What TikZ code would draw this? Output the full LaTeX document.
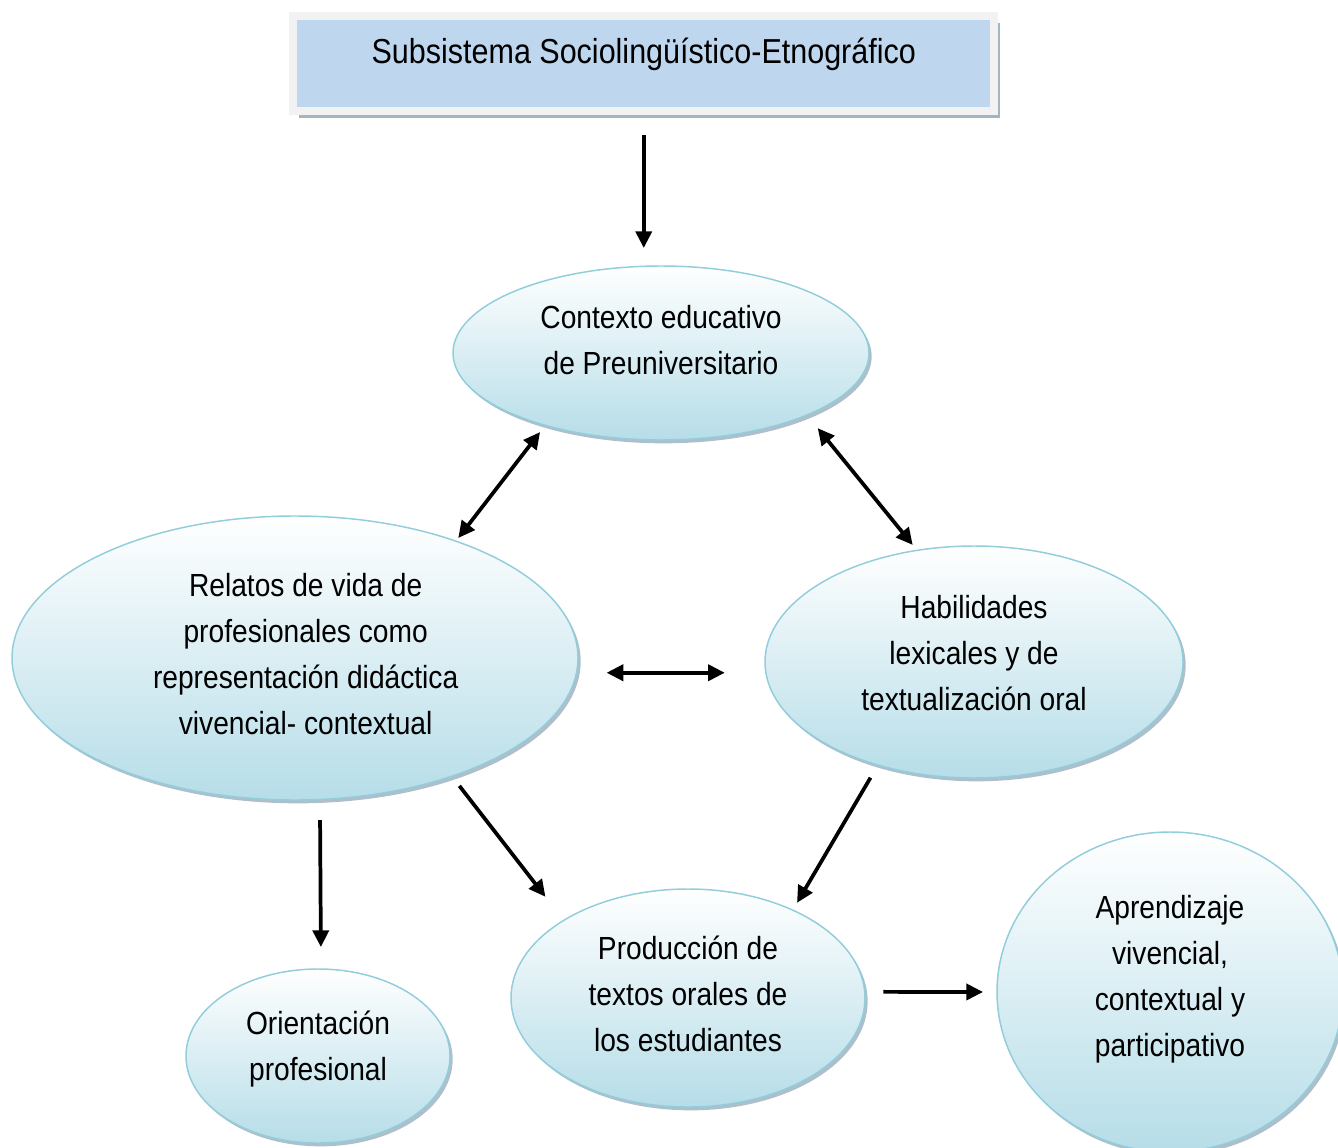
\documentclass[tikz,border=0pt]{standalone}
\usepackage{fontspec}
\setmainfont{Liberation Sans}[FakeStretch=0.88]
\usetikzlibrary{arrows.meta,shadows,shapes.geometric}
\definecolor{bordeazul}{HTML}{92CDDC}
\definecolor{fondoazul}{HTML}{B6DDE8}
\definecolor{titazul}{HTML}{BED6EE}
\definecolor{marco}{HTML}{F2F2F2}
\definecolor{sombra}{HTML}{8BA3B3}
\tikzset{
  elipse/.style={ellipse,draw=bordeazul,line width=1.1pt,top color=white,bottom color=fondoazul,
    inner sep=0pt,outer sep=0pt,align=center,font=\fontsize{24}{34.5}\selectfont,
    drop shadow={shadow xshift=2pt,shadow yshift=-2.5pt,fill=sombra,opacity=0.7}},
  titulo/.style={rectangle,fill=titazul,draw=marco,line width=6pt,outer sep=0pt,
    minimum width=525.4pt,minimum height=71.6pt,text height=20pt,text depth=20pt,
    font=\fontsize{26}{30}\selectfont,
    drop shadow={shadow xshift=4.5pt,shadow yshift=-5pt,fill=sombra,opacity=0.8}},
  flecha/.style={line width=2.8pt,-{Triangle[length=12.5pt,width=12pt]}},
  dflecha/.style={line width=2.8pt,{Triangle[length=12.5pt,width=12pt]}-{Triangle[length=12.5pt,width=12pt]}}
}
\begin{document}
\begin{tikzpicture}[x=0.75pt,y=-0.75pt]
    \useasboundingbox(0,0)rectangle(1338,1148);

    \node[titulo](tit)at(643.75,63.75){Subsistema Sociolingüístico-Etnográfico};

    \node[elipse,minimum width=312pt,minimum height=130.5pt,text depth=20pt](ctx)at(661,353){Contexto educativo\\de Preuniversitario};
    \node[elipse,minimum width=424.5pt,minimum height=213pt,text depth=6.8pt](rel)at(295,658){\hspace*{16pt}Relatos de vida de\\\hspace*{16pt}profesionales como\\\hspace*{16pt}representación didáctica\\\hspace*{16pt}vivencial- contextual};
    \node[elipse,minimum width=313.5pt,minimum height=174pt,text depth=13.5pt](hab)at(974,662){Habilidades\\lexicales y de\\textualización oral};
    \node[elipse,minimum width=265.5pt,minimum height=163.5pt,text depth=6pt](prod)at(688,998){Producción de\\textos orales de\\los estudiantes};
    \node[elipse,minimum width=198pt,minimum height=130.5pt,text depth=15.6pt](ori)at(318,1056){Orientación\\profesional};
    \node[elipse,minimum width=259.5pt,minimum height=240pt,text depth=24.6pt](apr)at(1170,992){Aprendizaje\\vivencial,\\contextual y\\participativo};

    % conexiones
    \draw[flecha,shorten <=17.6pt,shorten >=13.5pt](tit.south)--(tit.south|-ctx.north);
    \draw[dflecha,shorten <=6.4pt,shorten >=3pt](ctx.212)--(rel.36);
    \draw[dflecha,shorten <=12.75pt,shorten >=5.25pt](ctx.337)--(hab.117.3);
    \draw[dflecha,shorten <=22.6pt,shorten >=30.5pt](rel.357.4)--(rel.357.4-|hab.182.5);
    \draw[flecha,shorten <=9.2pt,shorten >=22.4pt](rel.323.7)--(prod.148.4);
    \draw[flecha,shorten <=11pt,shorten >=6.4pt](hab.227.7)--(prod.40.9);
    \draw[flecha,shorten <=15.5pt,shorten >=16.5pt](rel.280)--(ori.88.7);
    \draw[flecha,shorten <=13.9pt,shorten >=10.5pt](prod.2.6)--(apr.180);
\end{tikzpicture}
\end{document}
